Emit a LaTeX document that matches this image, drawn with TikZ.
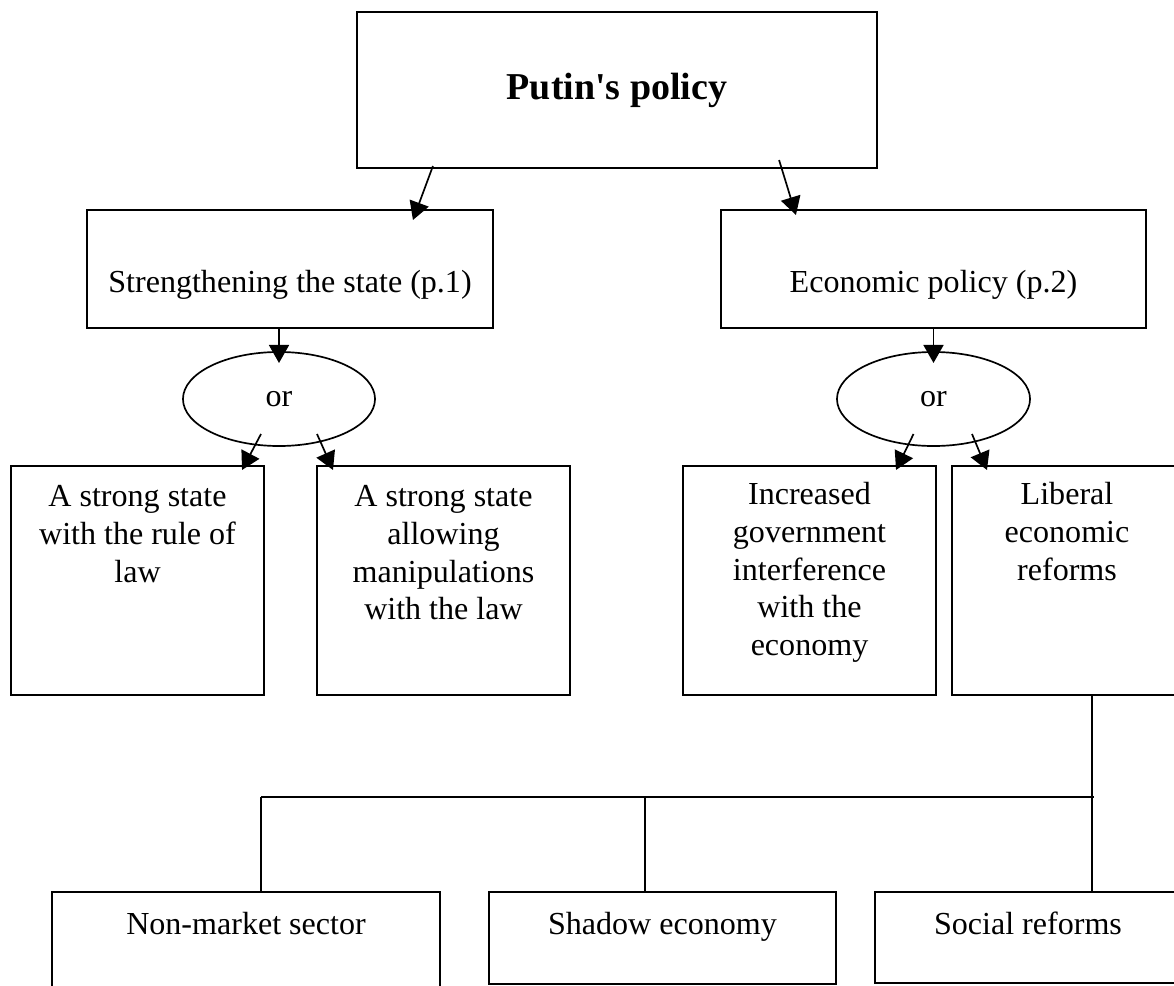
\documentclass[tikz,border=0pt]{standalone}
\usepackage{fontspec}
\setmainfont{Liberation Serif}
\usetikzlibrary{arrows.meta,shapes.geometric}

% top aligned text inside a fixed box: width, height, first baseline, text
\newcommand{\cell}[4]{\parbox[c][#2][t]{#1}{\centering\rule{0pt}{#3}#4\par}}

\begin{document}
\begin{tikzpicture}[x=0.025cm, y=-0.025cm,
    font=\fontsize{22.8pt}{26.7pt}\selectfont,
    box/.style={draw, line width=1.2pt, inner sep=0pt, outer sep=0pt},
    oval/.style={draw, ellipse, line width=1.2pt, inner sep=0pt, outer sep=0pt},
    arr/.style={line width=1.2pt, -{Triangle[length=0.45cm, width=0.5cm]}},
    link/.style={line width=1pt}]

\useasboundingbox (0,0) rectangle (1174,985);
\clip (0,0) rectangle (1174,985);

% ===============================================================
% Top: title box
% ===============================================================

\node[box, minimum width=13cm, minimum height=3.9cm,
      font=\bfseries\fontsize{27pt}{30pt}\selectfont] (putin) at (617,90) {Putin\textquotesingle s policy};

% second row
\node[box] (state) at (290,269)    {\cell{10.15cm}{2.95cm}{2.05cm}{Strengthening the state (p.1)}};
\node[box] (econ)  at (933.5,269)  {\cell{10.625cm}{2.95cm}{2.05cm}{Economic policy (p.2)}};

\draw[arr] ([shift={(76,-2)}]putin.south west) -- ([shift={(326,10)}]state.north west);
\draw[arr] ([shift={(-98,-8)}]putin.south east) -- ([shift={(75,5)}]econ.north west);

% ===============================================================
% Middle: the two choices
% ===============================================================

\node[oval, minimum width=4.8cm,   minimum height=2.35cm] (orL) at (279,399)   {or};
\node[oval, minimum width=4.825cm, minimum height=2.35cm] (orR) at (933.5,399) {or};

\draw[arr] (orL.north |- state.south) -- ([shift={(0,11)}]orL.north);
\draw[arr] (orR.north |- econ.south)  -- ([shift={(0,11)}]orR.north);

\node[box] (law)   at (137.5,580.5) {\cell{6.325cm}{5.725cm}{1.025cm}{A strong state\\ with the rule of\\ law}};
\node[box] (manip) at (443.5,580.5) {\cell{6.325cm}{5.725cm}{1.025cm}{A strong state\\ allowing\\ manipulations\\ with the law}};
\node[box] (gov)   at (809.5,580.5) {\cell{6.325cm}{5.725cm}{0.975cm}{Increased\\ government\\ interference\\ with the\\ economy}};
\node[box] (lib)   at (1067,580.5)  {\cell{5.75cm}{5.725cm}{0.975cm}{Liberal\\ economic\\ reforms}};

\draw[arr] ([shift={(-18,35)}]orL.center)   -- ([shift={(-22,4)}]law.north east);
\draw[arr] ([shift={(38,35)}]orL.center)    -- ([shift={(16,4)}]manip.north west);
\draw[arr] ([shift={(-20,35)}]orR.center)   -- ([shift={(-40,4)}]gov.north east);
\draw[arr] ([shift={(38.5,35)}]orR.center)  -- ([shift={(35,4)}]lib.north west);

% ===============================================================
% Bottom: results of the liberal reforms
% ===============================================================

\node[box] (nonmarket) at (246,940)    {\cell{9.7cm}{2.4cm}{1.05cm}{Non-market sector}};
\node[box] (shadow)    at (662.5,938)  {\cell{8.675cm}{2.3cm}{1.05cm}{Shadow economy}};
\node[box] (social)    at (1028,937.5) {\cell{7.65cm}{2.275cm}{1.05cm}{Social reforms}};

\coordinate (busL) at (261,797);
\coordinate (busM) at (645,797);
\coordinate (busR) at (1092,797);

\draw[link] (busR |- lib.south) -- (busR |- social.north);
\draw[link] (busL) -- ([shift={(2,0)}]busR);
\draw[link] (busL) -- (busL |- nonmarket.north);
\draw[link] (busM) -- (busM |- shadow.north);

\end{tikzpicture}
\end{document}
